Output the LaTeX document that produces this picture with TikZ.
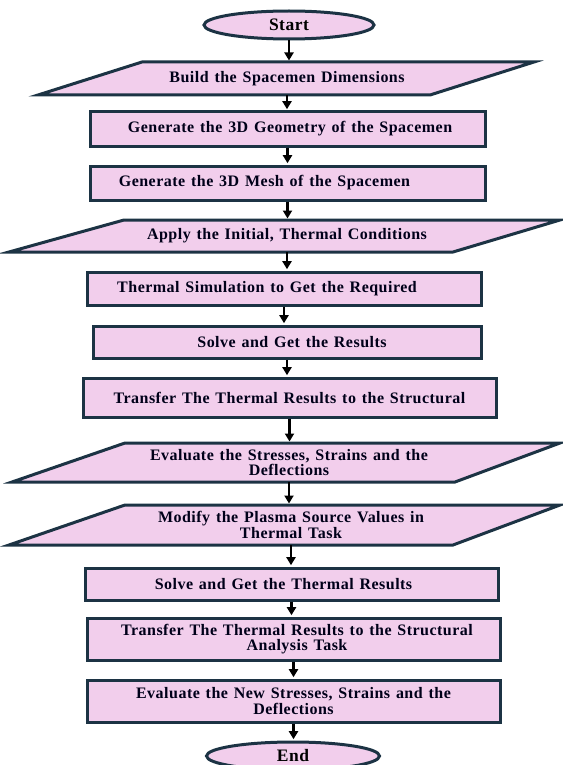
\documentclass[tikz,border=0pt]{standalone}
\usepackage{fontspec}
\setmainfont{Liberation Serif}[LetterSpace=3, WordSpace=1.3]
\usetikzlibrary{shapes.geometric,arrows.meta}
\definecolor{boxfill}{HTML}{F2CEEC}
\definecolor{boxline}{HTML}{1C3344}
\begin{document}
\begin{tikzpicture}[x=1pt,y=-1pt,
  txt/.style={font=\bfseries\fontsize{16}{15.5}\selectfont, align=center, text=black!90!blue},
  box/.style={txt, rectangle, draw=boxline, line width=3pt, fill=boxfill, inner sep=0pt},
  term/.style={ellipse, draw=boxline, line width=3pt, fill=boxfill, inner sep=0pt, font=\bfseries\fontsize{17.5}{18}\selectfont},
  para/.style={draw=boxline, line width=3pt, fill=boxfill, line join=miter},
  ptext/.style={txt, rectangle, inner sep=0pt},
  arr/.style={-{Triangle[length=8pt,width=9pt]}, line width=2.4pt, black, shorten >=1.3pt},
]
\useasboundingbox (0,0) rectangle (562,765);
\fill[white] (0,0) rectangle (562,765);

\node[term, minimum width=170pt, minimum height=28pt] (start) at (289,25) {Start};

\draw[para] (142,62) -- (534,62) -- (430,95) -- (38,95) -- cycle;
\node[ptext, minimum width=300pt, minimum height=33pt] (p1) at (287,78.5) {Build the Spacemen Dimensions};

\node[box, minimum width=395pt, minimum height=34pt] (b2) at (287.5,129) {\hspace*{5pt}Generate the 3D Geometry of the Spacemen};
\node[box, minimum width=395pt, minimum height=34pt] (b3) at (287.5,183) {\hspace*{-46pt}Generate the 3D Mesh of the Spacemen};

\draw[para] (124,220) -- (560,220) -- (453,252) -- (9,252) -- cycle;
\node[ptext, minimum width=300pt, minimum height=32pt] (p4) at (287,236) {Apply the Initial, Thermal Conditions};

\node[box, minimum width=394pt, minimum height=33pt] (b5) at (284,288.5) {\hspace*{-34pt}Thermal Simulation to Get the Required};
\node[box, minimum width=388pt, minimum height=32pt] (b6) at (287,342) {\hspace*{10pt}Solve and Get the Results};
\node[box, minimum width=413pt, minimum height=39pt] (b7) at (289.5,397.5) {Transfer The Thermal Results to the Structural};

\draw[para] (125,443) -- (560,443) -- (455,482) -- (12,482) -- cycle;
\node[ptext, minimum width=300pt, minimum height=39pt] (p8) at (289,462.5) {Evaluate the Stresses, Strains and the\\Deflections};

\draw[para] (125,505) -- (560,505) -- (453,545) -- (9,545) -- cycle;
\node[ptext, minimum width=300pt, minimum height=40pt] (p9) at (291,525) {Modify the Plasma Source Values in\\Thermal Task};

\node[box, minimum width=413pt, minimum height=32pt] (b10) at (291.5,584) {\hspace*{-16pt}Solve and Get the Thermal Results};
\node[box, minimum width=413pt, minimum height=42pt] (b11) at (293.5,639) {\hspace*{7pt}Transfer The Thermal Results to the Structural\\\hspace*{7pt}Analysis Task};
\node[box, minimum width=413pt, minimum height=42pt] (b12) at (293.5,701) {Evaluate the New Stresses, Strains and the\\Deflections};

\node[term, minimum width=173pt, minimum height=28pt] (end) at (293,756) {End};

\draw[arr] (start.south) -- (start.south |- p1.north);
\draw[arr] (p1.south) -- (p1.south |- b2.north);
\draw[arr] (b2.south) -- (b2.south |- b3.north);
\draw[arr] (b3.south) -- (b3.south |- p4.north);
\draw[arr] (p4.south) -- (p4.south |- b5.north);
\draw[arr] (b5.south) -- (b5.south |- b6.north);
\draw[arr] (b6.south) -- (b6.south |- b7.north);
\draw[arr] (b7.south) -- (b7.south |- p8.north);
\draw[arr] (p8.south) -- (p8.south |- p9.north);
\draw[arr] (p9.south) -- (p9.south |- b10.north);
\draw[arr] (b10.south) -- (b10.south |- b11.north);
\draw[arr] (b11.south) -- (b11.south |- b12.north);
\draw[arr] (b12.south) -- (b12.south |- end.north);
\end{tikzpicture}
\end{document}
